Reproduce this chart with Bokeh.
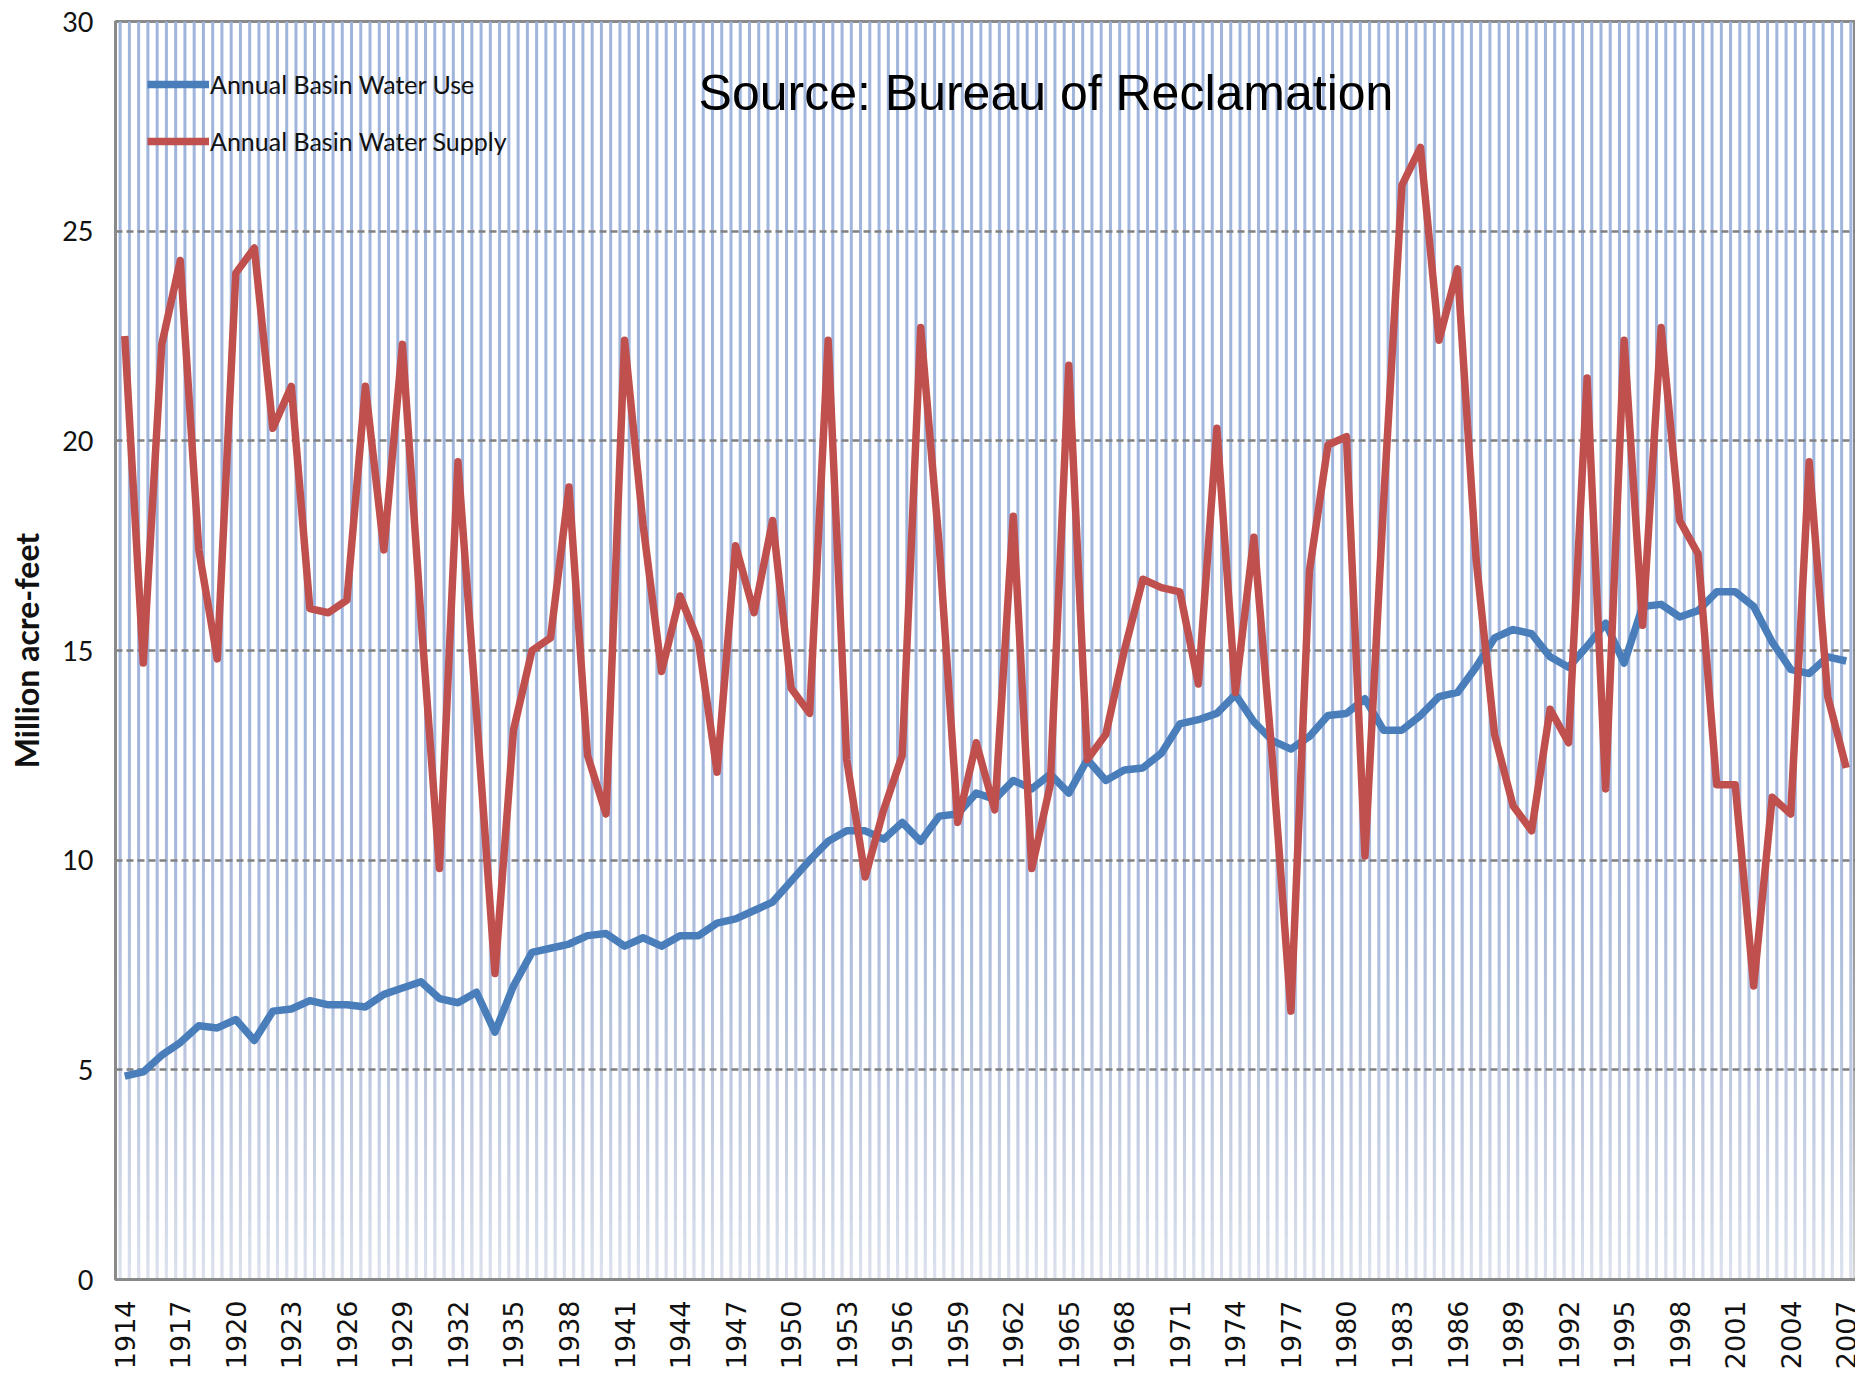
import math
import numpy as np
from bokeh.plotting import figure
from bokeh.models import Range1d, FixedTicker, Legend, LegendItem, Label, ColumnDataSource
from bokeh.embed import file_html
from bokeh.resources import INLINE

# ---------------- data ----------------
years = list(range(1914, 2008))

water_use = [
    4.85, 4.95, 5.35, 5.65, 6.05, 6.00, 6.20, 5.70, 6.40, 6.45,   # 1914-1923
    6.65, 6.55, 6.55, 6.50, 6.80, 6.95, 7.10, 6.70, 6.60, 6.85,   # 1924-1933
    5.90, 7.00, 7.80, 7.90, 8.00, 8.20, 8.25, 7.95, 8.15, 7.95,   # 1934-1943
    8.20, 8.20, 8.50, 8.60, 8.80, 9.00, 9.50, 10.00, 10.45, 10.70,  # 1944-1953
    10.70, 10.50, 10.90, 10.45, 11.05, 11.10, 11.60, 11.45, 11.90, 11.70,  # 1954-1963
    12.05, 11.60, 12.40, 11.90, 12.15, 12.20, 12.55, 13.25, 13.35, 13.50,  # 1964-1973
    13.95, 13.30, 12.85, 12.65, 12.95, 13.45, 13.50, 13.85, 13.10, 13.10,  # 1974-1983
    13.45, 13.90, 14.00, 14.60, 15.30, 15.50, 15.40, 14.85, 14.60, 15.10,  # 1984-1993
    15.65, 14.70, 16.05, 16.10, 15.80, 15.95, 16.40, 16.40, 16.05, 15.20,  # 1994-2003
    14.55, 14.45, 14.85, 14.75,                                    # 2004-2007
]

water_supply = [
    22.5, 14.7, 22.3, 24.3, 17.4, 14.8, 24.0, 24.6, 20.3, 21.3,   # 1914-1923
    16.0, 15.9, 16.2, 21.3, 17.4, 22.3, 15.8, 9.8, 19.5, 13.5,    # 1924-1933
    7.3, 13.1, 15.0, 15.3, 18.9, 12.5, 11.1, 22.4, 18.0, 14.5,    # 1934-1943
    16.3, 15.2, 12.1, 17.5, 15.9, 18.1, 14.1, 13.5, 22.4, 12.4,   # 1944-1953
    9.6, 11.2, 12.5, 22.7, 17.5, 10.9, 12.8, 11.2, 18.2, 9.8,     # 1954-1963
    11.8, 21.8, 12.4, 13.0, 15.0, 16.7, 16.5, 16.4, 14.2, 20.3,   # 1964-1973
    14.0, 17.7, 12.4, 6.4, 16.9, 19.9, 20.1, 10.1, 18.5, 26.1,    # 1974-1983
    27.0, 22.4, 24.1, 17.2, 13.0, 11.3, 10.7, 13.6, 12.8, 21.5,   # 1984-1993
    11.7, 22.4, 15.6, 22.7, 18.1, 17.3, 11.8, 11.8, 7.0, 11.5,    # 1994-2003
    11.1, 19.5, 13.9, 12.2,                                        # 2004-2007
]

tick_years = list(range(1914, 2008, 3))
tick_labels = [str(y) for y in tick_years]
y_ticks = [0, 5, 10, 15, 20, 25, 30]
grid_values = [5, 10, 15, 20, 25]

series_names = ["Annual Basin Water Use", "Annual Basin Water Supply"]
title_text = "Source: Bureau of Reclamation"
y_title = "Million acre-feet"

# ---------------- figure ----------------
x_lo, x_hi = years[0] - 0.5, years[-1] + 0.5
y_lo, y_hi = 0, 30

p = figure(width=1855, height=1380, output_backend="svg", toolbar_location=None,
           x_range=Range1d(x_lo, x_hi), y_range=Range1d(y_lo, y_hi),
           min_border_left=115, min_border_right=0, min_border_top=21, min_border_bottom=101)
p.background_fill_color = "white"
p.border_fill_color = "white"
p.outline_line_color = "#8a8a8a"
p.outline_line_width = 3

# background: thin blue vertical stripes, fading towards the bottom
stripe_x = np.arange(x_lo + 0.25, x_hi, 0.5)
p.segment(x0=stripe_x, y0=y_lo, x1=stripe_x, y1=y_hi, line_color="#a0b5dc",
          line_width=3, level="image")

# cumulative white overlays (no seams): target fade A(y)
n_b = 60
tops = np.linspace(21, 21 / n_b, n_b)
def fade(y):
    return 0.74 * np.clip(1 - y / 21.0, 0, 1) ** 2
T_prev = 1.0
alphas = []
for k in range(n_b):
    y_mid = tops[k] - (21 / n_b) / 2
    T = 1 - fade(y_mid)
    alphas.append(1 - T / T_prev)
    T_prev = T
p.quad(left=x_lo, right=x_hi, bottom=y_lo, top=tops, fill_color="white",
       fill_alpha=np.array(alphas), line_color=None, level="image")

# data lines
src = ColumnDataSource(dict(year=years, use=water_use, supply=water_supply))
r_use = p.line("year", "use", source=src, line_color="#4a7ebb", line_width=7.5,
               line_join="round")
r_sup = p.line("year", "supply", source=src, line_color="#c0504d", line_width=7.5,
               line_join="round")

legend = Legend(items=[LegendItem(label=series_names[0], renderers=[r_use]),
                       LegendItem(label=series_names[1], renderers=[r_sup])],
                location=(32, 1118), orientation="vertical", margin=0, padding=20,
                glyph_width=62, glyph_height=40, label_height=40, spacing=17,
                label_standoff=1, label_text_font="Lato", label_text_font_size="25px",
                label_text_color="#111111", background_fill_alpha=0,
                border_line_color=None)
p.add_layout(legend)

p.add_layout(Label(x=1945.0, y=28.3, text=title_text, text_font="Liberation Sans",
                   text_font_size="50px", text_color="black",
                   text_baseline="alphabetic", text_align="left"))

# axes
p.xaxis.ticker = FixedTicker(ticks=tick_years)
p.xaxis.major_label_overrides = dict(zip(tick_years, tick_labels))
p.xaxis.major_label_orientation = math.pi / 2
p.xaxis.major_label_text_font = "DejaVu Sans"
p.xaxis.major_label_text_font_size = "27px"
p.xaxis.major_label_text_color = "#111111"
p.xaxis.major_label_standoff = 15
p.xaxis.axis_line_color = "#8a8a8a"
p.xaxis.axis_line_width = 3
p.xaxis.major_tick_line_color = None
p.xaxis.minor_tick_line_color = None

p.yaxis.ticker = FixedTicker(ticks=y_ticks)
p.yaxis.major_label_text_font = "Lato"
p.yaxis.major_label_text_font_size = "27px"
p.yaxis.major_label_text_color = "#111111"
p.yaxis.major_label_standoff = 16
p.yaxis.axis_line_color = "#8a8a8a"
p.yaxis.axis_line_width = 3
p.yaxis.major_tick_line_color = None
p.yaxis.minor_tick_line_color = None
p.yaxis.axis_label = y_title
p.yaxis.axis_label_text_font = "Lato"
p.yaxis.axis_label_text_font_style = "bold"
p.yaxis.axis_label_text_font_size = "32px"
p.yaxis.axis_label_text_color = "#111111"
p.yaxis.axis_label_standoff = 13

p.xgrid.grid_line_color = None
p.ygrid.ticker = FixedTicker(ticks=grid_values)
p.ygrid.grid_line_color = "#808080"
p.ygrid.grid_line_width = 2.5
p.ygrid.grid_line_dash = "7 4"

open("out.html", "w").write(file_html(p, INLINE))
